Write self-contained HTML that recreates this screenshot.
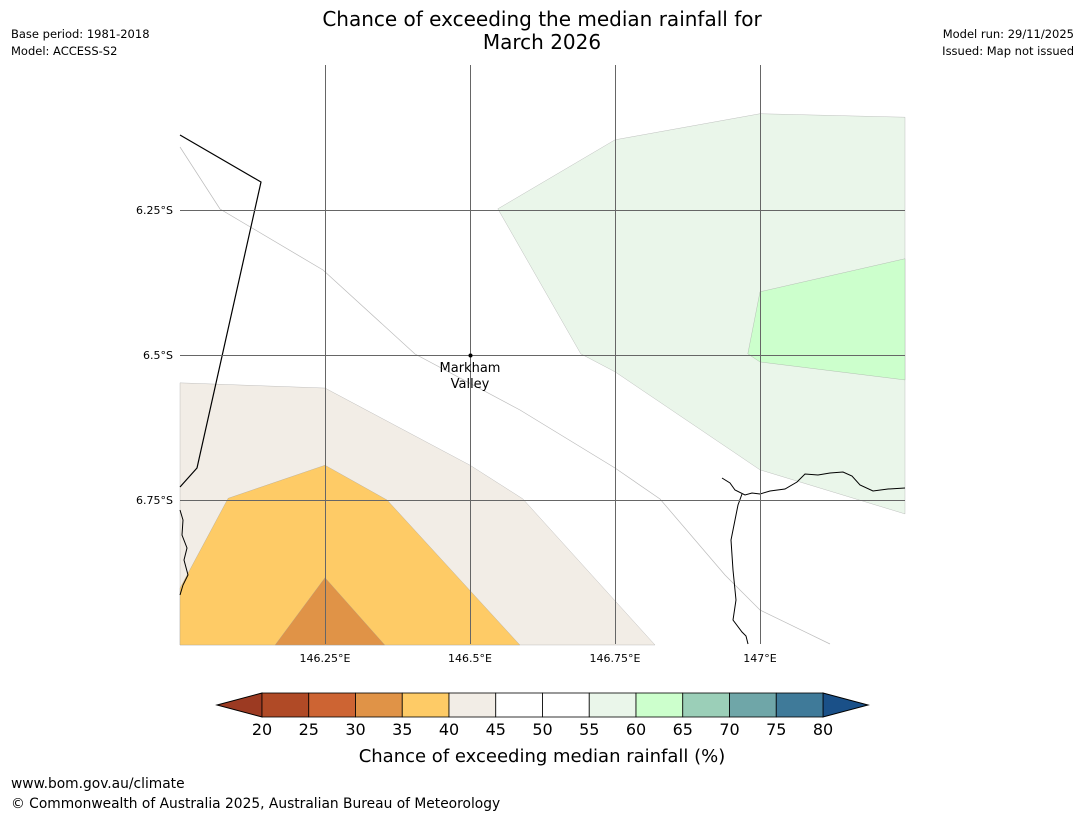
<!DOCTYPE html>
<html><head><meta charset="utf-8"><style>
body{margin:0;background:#fff;width:1085px;height:816px;overflow:hidden;font-family:"Liberation Sans","DejaVu Sans",sans-serif}
</style></head><body>
<svg id="s" width="1085" height="816" xmlns="http://www.w3.org/2000/svg" style="font-family:'DejaVu Sans','Liberation Sans',sans-serif">
<text x="542" y="26" text-anchor="middle" font-size="20">Chance of exceeding the median rainfall for</text>
<text x="542" y="49" text-anchor="middle" font-size="20">March 2026</text>
<text x="11" y="38" font-size="11.5">Base period: 1981-2018</text>
<text x="11" y="55" font-size="11.5">Model: ACCESS-S2</text>
<text x="1074" y="38" font-size="11.5" text-anchor="end">Model run: 29/11/2025</text>
<text x="1074" y="55" font-size="11.5" text-anchor="end">Issued: Map not issued</text>
<g id="map"></g>
<g id="cbar"></g>
<text x="542" y="762" text-anchor="middle" font-size="18">Chance of exceeding median rainfall (%)</text>
<text x="11" y="788" font-size="13.8">www.bom.gov.au/climate</text>
<text x="11" y="808" font-size="13.8">© Commonwealth of Australia 2025, Australian Bureau of Meteorology</text>
</svg>
<script>
const lonTicks=[146.25,146.5,146.75,147];
const lonLabels=["146.25°E","146.5°E","146.75°E","147°E"];
const latTicks=[6.25,6.5,6.75];
const latLabels=["6.25°S","6.5°S","6.75°S"];
const cbLevels=[20,25,30,35,40,45,50,55,60,65,70,75,80];
const cbColors=["#b04a26","#cd6433","#e09347","#fecb66","#f2ede6","#ffffff","#ffffff","#eaf6ea","#ccffcc","#9bcfb8","#6fa6a8","#3f7a99"];
const zoneBeige=[[146.0,6.548],[146.25,6.557],[146.5,6.69],[146.591,6.748],[146.819,7.0],[146.0,7.0]];
const zoneYellow=[[146.0,6.902],[146.083,6.747],[146.25,6.69],[146.357,6.75],[146.586,7.0],[146.0,7.0]];
const zoneOrange=[[146.164,7.0],[146.25,6.884],[146.353,7.0]];
const zoneLightGreen=[[146.548,6.248],[146.75,6.129],[147.0,6.084],[147.25,6.09],[147.25,6.774],[147.0,6.698],[146.75,6.529],[146.691,6.498]];
const zoneGreen=[[147.0,6.391],[147.25,6.334],[147.25,6.543],[147.0,6.512],[146.979,6.498]];
const NS="http://www.w3.org/2000/svg";
const x=lon=>180+(lon-146.0)*580, y=lat=>65+(lat-6.0)*580;
const map=document.getElementById('map'), cb=document.getElementById('cbar');
function mk(p,t,a){const e=document.createElementNS(NS,t);for(const k in a)e.setAttribute(k,a[k]);p.appendChild(e);return e;}
function poly(pts,fill,name){const e=mk(map,'polygon',{points:pts.map(p=>x(p[0])+','+y(p[1])).join(' '),fill:fill,stroke:'#999','stroke-width':0.3});

}
poly(zoneBeige,'#f2ede6','zone-40-45');
poly(zoneYellow,'#fecb66','zone-35-40');
poly(zoneOrange,'#e09347','zone-30-35');
poly(zoneLightGreen,'#eaf6ea','zone-55-60');
poly(zoneGreen,'#ccffcc','zone-60-65');
function line(d,st,w,name){const e=mk(map,'path',{d:d,fill:'none',stroke:st,'stroke-width':w});

}
line('M180,147 L220,209 L323,270 L415,354 L520,410 L615,468 L660,499 L725,575 L760,610 L830,644','#bbb',0.7,'province-boundary');
line('M180,135 L261,182 L197,468 L180,487','#000',1.2,'border-line');
line('M180,510 L183,520 L182,535 L187,548 L184,560 L188,575 L183,585 L180,595','#000',1,'coastline-west');
line('M722,478 L730,483 L735,490 L745,495 L752,493 L760,494 L770,491 L785,489 L797,482 L805,474 L818,475 L830,473 L843,472 L852,476 L860,485 L873,491 L888,489 L905,488','#000',1,'coastline-east');
line('M742,494 L738,505 L735,520 L731,540 L733,570 L736,600 L733,620 L742,632 L746,636 L748,644','#000',1,'coastline-river');
lonTicks.forEach((v,i)=>{const e=mk(map,'line',{x1:x(v)+0.5,x2:x(v)+0.5,y1:65,y2:644,stroke:'#666','stroke-width':1});


const t=mk(map,'text',{x:x(v),y:662,'text-anchor':'middle','font-size':11});t.textContent=lonLabels[i];

});
latTicks.forEach((v,i)=>{const e=mk(map,'line',{x1:180,x2:905,y1:y(v)+0.5,y2:y(v)+0.5,stroke:'#666','stroke-width':1});


const t=mk(map,'text',{x:173,y:y(v)+4,'text-anchor':'end','font-size':11});t.textContent=latLabels[i];

});
const dot=mk(map,'circle',{cx:x(146.5)+0.5,cy:y(6.5)+0.5,r:2,fill:'#000'});


[['Markham',372],['Valley',388]].forEach(a=>{const t=mk(map,'text',{x:x(146.5),y:a[1],'text-anchor':'middle','font-size':13});t.textContent=a[0];

});
const cx=v=>262+(v-20)*(561/60);
const t1=mk(cb,'polygon',{points:'262,693 217,705 262,717',fill:'#9c3a22',stroke:'#000','stroke-width':1});


const t2=mk(cb,'polygon',{points:'823,693 868,705 823,717',fill:'#1a5088',stroke:'#000','stroke-width':1});


cbColors.forEach((c,i)=>{const r=mk(cb,'rect',{x:cx(cbLevels[i]),y:693,width:cx(cbLevels[i+1])-cx(cbLevels[i]),height:24,fill:c,stroke:'#000','stroke-width':0.8});

});
cbLevels.forEach(v=>{const t=mk(cb,'text',{x:cx(v),y:735,'text-anchor':'middle','font-size':16});t.textContent=v;

});
</script>
</body></html>
